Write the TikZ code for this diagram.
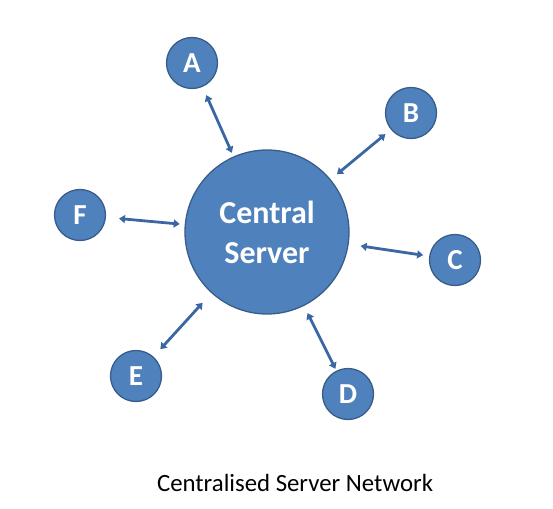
\documentclass[tikz,border=0pt]{standalone}
\usepackage{fontspec}
\setmainfont{Carlito}
\usetikzlibrary{arrows.meta}
\definecolor{nodefill}{HTML}{4F81BD}
\definecolor{nodeline}{HTML}{385D8A}
\definecolor{arrowcol}{HTML}{3A67A3}
\tikzset{
  client/.style={circle, fill=nodefill, draw=nodeline, line width=1.3pt, minimum size=51pt, inner sep=0pt, text=white, font=\bfseries\fontsize{29}{33}\selectfont},
  server/.style={circle, fill=nodefill, draw=nodeline, line width=1.3pt, minimum size=164pt, inner sep=0pt, text=white, align=center, font=\bfseries\fontsize{32}{40}\selectfont},
  link/.style={draw=arrowcol, line width=2.8pt, {Triangle[length=6pt,width=8pt]}-{Triangle[length=6pt,width=8pt]}}
}
\begin{document}
\begin{tikzpicture}[x=1pt,y=-1pt]
\useasboundingbox (0,0) rectangle (553,508);
\node[server] (S) at (267,232) {Central\\Server};
\node[client] (A) at (192,63) {A};
\node[client] (B) at (411,113) {B};
\node[client] (C) at (455,260) {C};
\node[client] (D) at (348,394) {D};
\node[client] (E) at (136,376) {E};
\node[client] (F) at (80,215) {F};
\draw[link, shorten <=4pt, shorten >=9pt] (S) -- (A);
\draw[link, shorten <=8pt, shorten >=7pt] (S) -- (B);
\draw[link, shorten <=12pt, shorten >=6pt] (S) -- (C);
\draw[link, shorten <=8pt, shorten >=2pt] (S) -- (D);
\draw[link, shorten <=13pt, shorten >=10pt] (S) -- (E);
\draw[link, shorten <=5pt, shorten >=13pt] (S) -- (F);
\node[font=\fontsize{24.8}{29}\selectfont, anchor=base] (T) at (295,491) {Centralised Server Network};
\end{tikzpicture}
\end{document}
